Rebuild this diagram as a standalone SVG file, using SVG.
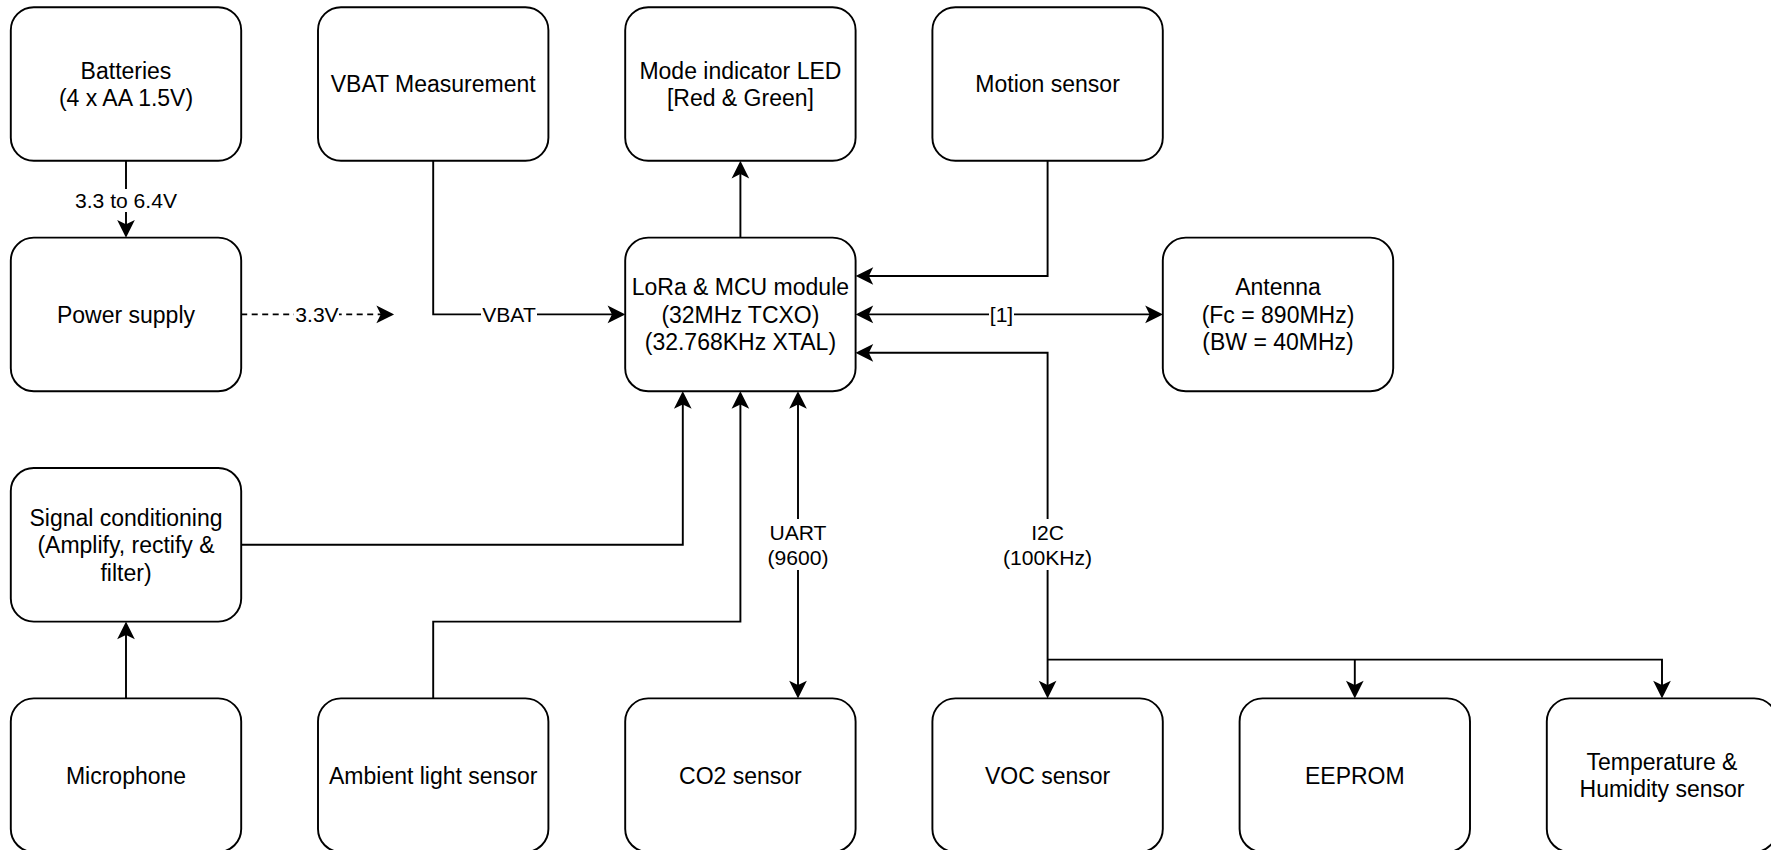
<svg xmlns="http://www.w3.org/2000/svg" width="1771" height="850" viewBox="0 0 1771 850">
<style>
.box{fill:#fff;stroke:#000;stroke-width:1.92}
.t{font-family:"Liberation Sans",Arial,sans-serif;font-size:23px;fill:#000;text-anchor:middle}
.e{font-family:"Liberation Sans",Arial,sans-serif;font-size:21.1px;fill:#000;text-anchor:middle}
.ln{fill:none;stroke:#000;stroke-width:1.92}
.dash{stroke-dasharray:6 4.5}
.lbg{fill:#fff;stroke:none}
</style>
<defs>
<marker id="arr" markerUnits="userSpaceOnUse" viewBox="-18 -9 20 18" markerWidth="20" markerHeight="18" refX="-10" refY="0" orient="auto-start-reverse" overflow="visible">
<path d="M-2.1,0 L-15.5,-6.7 L-12.2,0 L-15.5,6.7 Z" fill="#000" stroke="#000" stroke-width="1.92"/>
</marker>
</defs>
<rect width="1771" height="850" fill="#fff"/>
<g id="connectors">
<path class="ln" d="M126,160.8 V227.6" marker-end="url(#arr)"/>
<path class="ln dash" d="M241.2,314.4 H384" marker-end="url(#arr)"/>
<path class="ln" d="M433.2,160.8 V314.4 H615.2" marker-end="url(#arr)"/>
<path class="ln" d="M740.4,237.6 V170.8" marker-end="url(#arr)"/>
<path class="ln" d="M1047.6,160.8 V276 H865.6" marker-end="url(#arr)"/>
<path class="ln" d="M865.6,314.4 H1152.8" marker-start="url(#arr)" marker-end="url(#arr)"/>
<path class="ln" d="M241.2,544.8 H682.8 V401.2" marker-end="url(#arr)"/>
<path class="ln" d="M433.2,698.4 V621.6 H740.4 V401.2" marker-end="url(#arr)"/>
<path class="ln" d="M798,401.2 V688.4" marker-start="url(#arr)" marker-end="url(#arr)"/>
<path class="ln" d="M865.6,352.8 H1047.6 V688.4" marker-start="url(#arr)" marker-end="url(#arr)"/>
<path class="ln" d="M1047.6,659.6 H1662 V688.4" marker-end="url(#arr)"/>
<path class="ln" d="M1354.8,659.6 V688.4" marker-end="url(#arr)"/>
<path class="ln" d="M126,698.4 V631.6" marker-end="url(#arr)"/>
<rect class="lbg" x="74" y="189" width="104" height="23"/>
<text class="e" x="126" y="208">3.3 to 6.4V</text>
<rect class="lbg" x="294" y="303" width="45" height="23"/>
<text class="e" x="317" y="322">3.3V</text>
<rect class="lbg" x="481" y="303" width="56" height="23"/>
<text class="e" x="509" y="322">VBAT</text>
<rect class="lbg" x="989" y="303" width="25" height="25"/>
<text class="e" x="1001.5" y="322">[1]</text>
<rect class="lbg" x="766" y="519" width="64" height="51"/>
<text class="e" x="798" y="540">UART</text>
<text class="e" x="798" y="565.3">(9600)</text>
<rect class="lbg" x="1002" y="519" width="91" height="51"/>
<text class="e" x="1047.6" y="540">I2C</text>
<text class="e" x="1047.6" y="565.3">(100KHz)</text>
</g>
<g id="batteries">
<rect class="box" x="10.8" y="7.2" width="230.4" height="153.6" rx="23"/>
<text class="t" x="126" y="78.5">Batteries</text>
<text class="t" x="126" y="106.1">(4 x AA 1.5V)</text>
</g>
<g id="vbat">
<rect class="box" x="318" y="7.2" width="230.4" height="153.6" rx="23"/>
<text class="t" x="433.2" y="92.3">VBAT Measurement</text>
</g>
<g id="led">
<rect class="box" x="625.2" y="7.2" width="230.4" height="153.6" rx="23"/>
<text class="t" x="740.4" y="78.5">Mode indicator LED</text>
<text class="t" x="740.4" y="106.1">[Red &amp; Green]</text>
</g>
<g id="motion">
<rect class="box" x="932.4" y="7.2" width="230.4" height="153.6" rx="23"/>
<text class="t" x="1047.6" y="92.3">Motion sensor</text>
</g>
<g id="power">
<rect class="box" x="10.8" y="237.6" width="230.4" height="153.6" rx="23"/>
<text class="t" x="126" y="322.7">Power supply</text>
</g>
<g id="lora">
<rect class="box" x="625.2" y="237.6" width="230.4" height="153.6" rx="23"/>
<text class="t" x="740.4" y="295.1">LoRa &amp; MCU module</text>
<text class="t" x="740.4" y="322.7">(32MHz TCXO)</text>
<text class="t" x="740.4" y="350.3">(32.768KHz XTAL)</text>
</g>
<g id="antenna">
<rect class="box" x="1162.8" y="237.6" width="230.4" height="153.6" rx="23"/>
<text class="t" x="1278" y="295.1">Antenna</text>
<text class="t" x="1278" y="322.7">(Fc = 890MHz)</text>
<text class="t" x="1278" y="350.3">(BW = 40MHz)</text>
</g>
<g id="signal">
<rect class="box" x="10.8" y="468" width="230.4" height="153.6" rx="23"/>
<text class="t" x="126" y="525.5">Signal conditioning</text>
<text class="t" x="126" y="553.1">(Amplify, rectify &amp;</text>
<text class="t" x="126" y="580.7">filter)</text>
</g>
<g id="microphone">
<rect class="box" x="10.8" y="698.4" width="230.4" height="153.6" rx="23"/>
<text class="t" x="126" y="783.5">Microphone</text>
</g>
<g id="ambient">
<rect class="box" x="318" y="698.4" width="230.4" height="153.6" rx="23"/>
<text class="t" x="433.2" y="783.5">Ambient light sensor</text>
</g>
<g id="co2">
<rect class="box" x="625.2" y="698.4" width="230.4" height="153.6" rx="23"/>
<text class="t" x="740.4" y="783.5">CO2 sensor</text>
</g>
<g id="voc">
<rect class="box" x="932.4" y="698.4" width="230.4" height="153.6" rx="23"/>
<text class="t" x="1047.6" y="783.5">VOC sensor</text>
</g>
<g id="eeprom">
<rect class="box" x="1239.6" y="698.4" width="230.4" height="153.6" rx="23"/>
<text class="t" x="1354.8" y="783.5">EEPROM</text>
</g>
<g id="temphum">
<rect class="box" x="1546.8" y="698.4" width="230.4" height="153.6" rx="23"/>
<text class="t" x="1662" y="769.7">Temperature &amp;</text>
<text class="t" x="1662" y="797.3">Humidity sensor</text>
</g>
</svg>
